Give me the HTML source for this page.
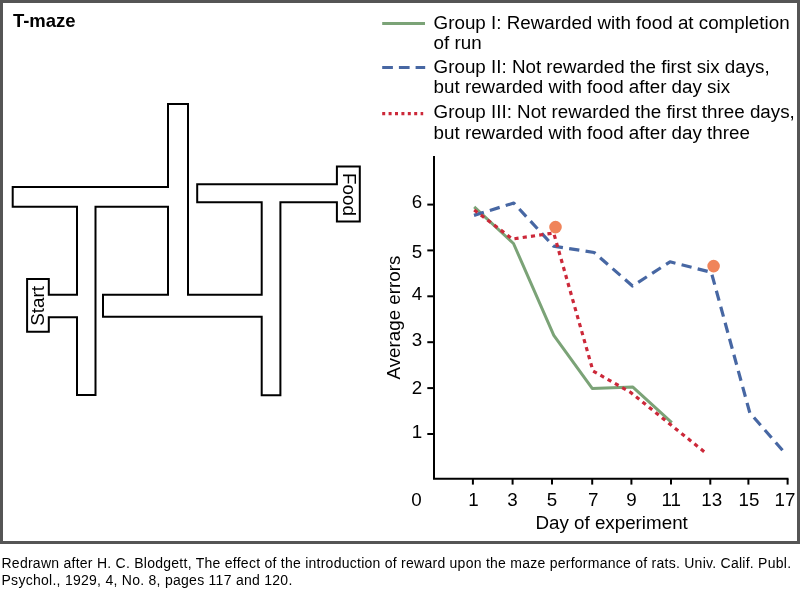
<!DOCTYPE html>
<html>
<head>
<meta charset="utf-8">
<style>
html,body{margin:0;padding:0;background:#fff;}
body{width:800px;height:589px;overflow:hidden;position:relative;font-family:"Liberation Sans",sans-serif;}
svg{position:absolute;left:0;top:0;display:block;will-change:transform;}
text{font-family:"Liberation Sans",sans-serif;fill:#000;}
</style>
</head>
<body>
<svg width="800" height="589" viewBox="0 0 800 589">
  <!-- frame -->
  <rect x="1.5" y="1.5" width="797" height="541" fill="none" stroke="#555" stroke-width="3"/>

  <!-- title -->
  <text x="12.9" y="26.9" font-size="18.5" font-weight="bold">T-maze</text>

  <!-- maze -->
  <path d="M168 104 H188 V294.8 H261.7 V202.2 H197.2 V184.2 H336.9 V166.5 H359.8 V221.5 H336.9 V202.2 H280.4 V395.2 H261.7 V316.8 H103 V294.8 H168 V206.7 H95.5 V395 H77 V317.3 H48.8 V331.8 H27.1 V279 H48.8 V294.8 H77 V206.7 H12.7 V187 H168 Z" fill="none" stroke="#000" stroke-width="2" stroke-linejoin="miter"/>
  <text transform="translate(43.7 305.9) rotate(-90)" text-anchor="middle" font-size="18.8">Start</text>
  <text transform="translate(343 194.5) rotate(90)" text-anchor="middle" font-size="18.8">Food</text>

  <!-- legend -->
  <line x1="382.2" y1="23.5" x2="425" y2="23.5" stroke="#7ba377" stroke-width="2.8"/>
  <line x1="382.2" y1="67.5" x2="425.2" y2="67.5" stroke="#4767a3" stroke-width="3" stroke-dasharray="10.7 6"/>
  <line x1="382.2" y1="113.6" x2="423.2" y2="113.6" stroke="#cc2839" stroke-width="3.2" stroke-dasharray="3 3.4"/>
  <g font-size="18.8">
    <text x="433.6" y="28.8">Group I: Rewarded with food at completion</text>
    <text x="433.6" y="49.4">of run</text>
    <text x="433.6" y="72.9">Group II: Not rewarded the first six days,</text>
    <text x="433.6" y="92.9">but rewarded with food after day six</text>
    <text x="433.6" y="118.4">Group III: Not rewarded the first three days,</text>
    <text x="433.6" y="139.2">but rewarded with food after day three</text>
  </g>

  <!-- axes -->
  <path d="M434 156 V478.8 H788.5" fill="none" stroke="#000" stroke-width="2"/>
  <g stroke="#000" stroke-width="2">
    <line x1="427.3" y1="204.6" x2="434" y2="204.6"/>
    <line x1="427.3" y1="250.4" x2="434" y2="250.4"/>
    <line x1="427.3" y1="296.3" x2="434" y2="296.3"/>
    <line x1="427.3" y1="342.2" x2="434" y2="342.2"/>
    <line x1="427.3" y1="388.1" x2="434" y2="388.1"/>
    <line x1="427.3" y1="434" x2="434" y2="434"/>
    <line x1="472.9" y1="478.8" x2="472.9" y2="484.6"/>
    <line x1="512.6" y1="478.8" x2="512.6" y2="484.6"/>
    <line x1="552" y1="478.8" x2="552" y2="484.6"/>
    <line x1="592.2" y1="478.8" x2="592.2" y2="484.6"/>
    <line x1="631.4" y1="478.8" x2="631.4" y2="484.6"/>
    <line x1="671" y1="478.8" x2="671" y2="484.6"/>
    <line x1="710.3" y1="478.8" x2="710.3" y2="484.6"/>
    <line x1="748.4" y1="478.8" x2="748.4" y2="484.6"/>
    <line x1="787.6" y1="478.8" x2="787.6" y2="484.6"/>
  </g>
  <g font-size="18.8" text-anchor="end">
    <text x="422.3" y="207.8">6</text>
    <text x="422.3" y="257.6">5</text>
    <text x="422.3" y="299.9">4</text>
    <text x="422.3" y="346.1">3</text>
    <text x="422.3" y="393.5">2</text>
    <text x="422.3" y="438.4">1</text>
  </g>
  <g font-size="18.8" text-anchor="middle">
    <text x="416.5" y="506.3">0</text>
    <text x="473.6" y="506.3">1</text>
    <text x="512.5" y="506.3">3</text>
    <text x="552" y="506.3">5</text>
    <text x="593.2" y="506.3">7</text>
    <text x="631.5" y="506.3">9</text>
    <text x="671.3" y="506.3">11</text>
    <text x="711.8" y="506.3">13</text>
    <text x="749" y="506.3">15</text>
    <text x="785" y="506.3">17</text>
    <text x="611.6" y="528.8">Day of experiment</text>
  </g>
  <text transform="translate(399.8 317.6) rotate(-90)" text-anchor="middle" font-size="18.8">Average errors</text>

  <!-- data -->
  <polyline points="474.2,206.8 513.5,243.5 553.8,335.3 592.2,388.4 632.9,387.1 671.8,422.7" fill="none" stroke="#7ba377" stroke-width="3" stroke-linejoin="round"/>
  <polyline points="474,215.4 513.8,203 553.5,246.2 594.2,252.5 632.5,286 670,261.8 711.3,272.3 749.8,412.8 783,450.9" fill="none" stroke="#4767a3" stroke-width="3.2" stroke-linejoin="round" stroke-dasharray="10.3 6.3"/>
  <polyline points="474.2,210 512.5,239 553.7,233 593,371 630.5,392.3 704.9,452.3" fill="none" stroke="#cc2839" stroke-width="3.2" stroke-linejoin="round" stroke-dasharray="4.15 4.185"/>
  <circle cx="555.5" cy="227.1" r="6.3" fill="#f0845a"/>
  <circle cx="713.6" cy="266.1" r="6.3" fill="#f0845a"/>

  <!-- footnote -->
  <g font-size="14" letter-spacing="0.27">
    <text id="fn1" x="1.5" y="567.8" letter-spacing="0.257">Redrawn after H. C. Blodgett, The effect of the introduction of reward upon the maze performance of rats. Univ. Calif. Publ.</text>
    <text id="fn2" x="1.5" y="584.6">Psychol., 1929, 4, No. 8, pages 117 and 120.</text>
  </g>
</svg>
</body>
</html>
